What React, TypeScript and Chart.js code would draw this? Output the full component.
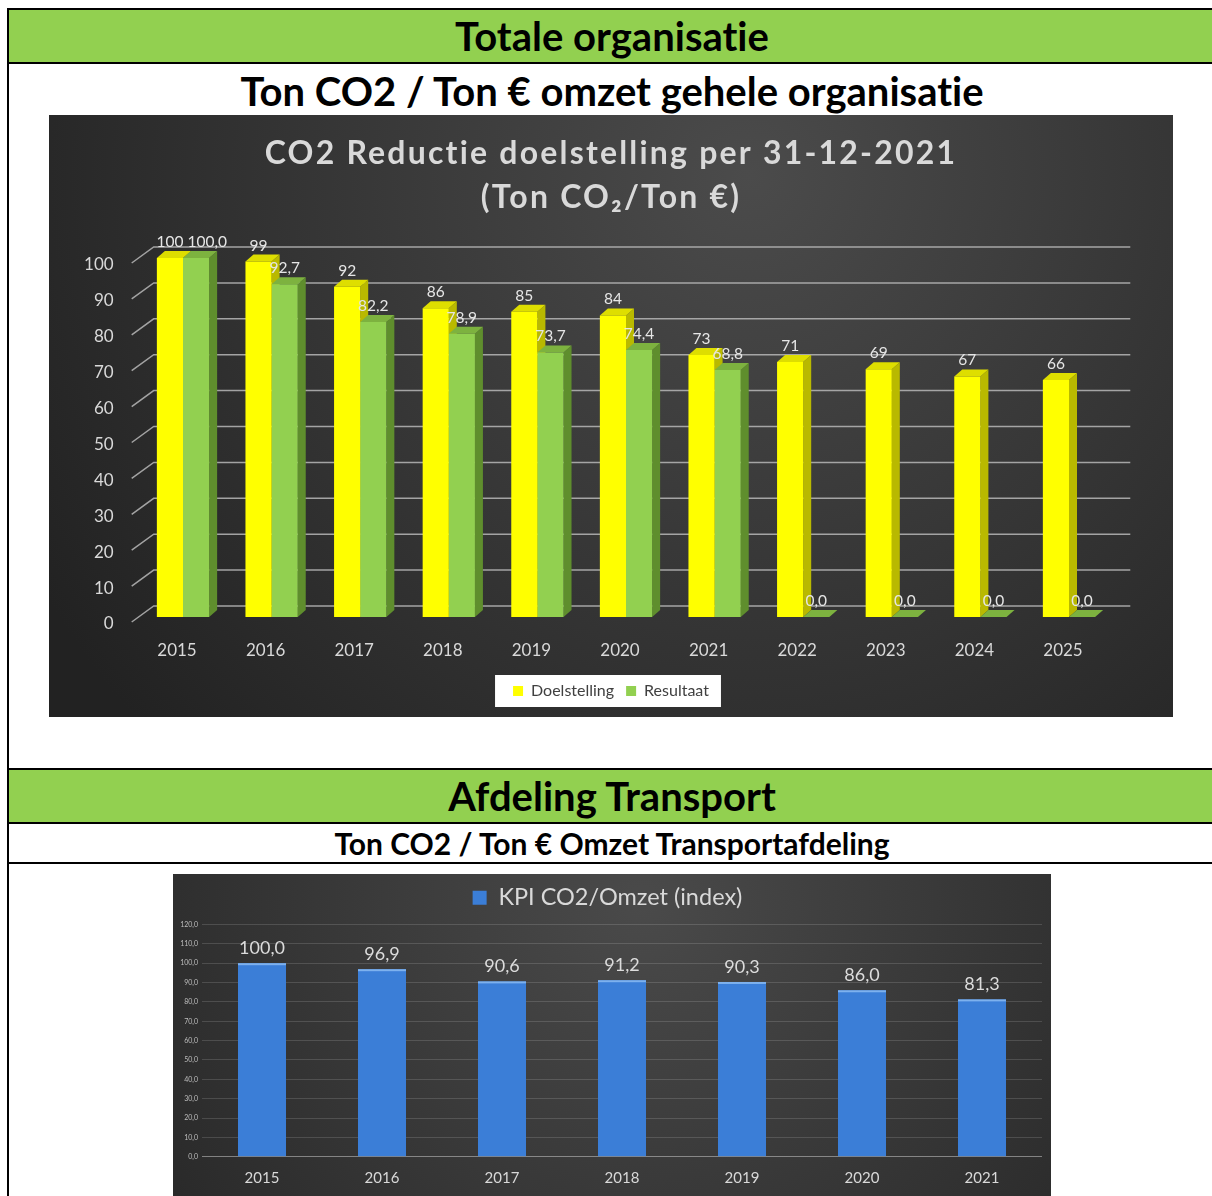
import React, { useEffect, useRef } from "react";
import { Chart, registerables } from "chart.js";

Chart.register(...registerables);

// Totale organisatie — Ton CO2 / Ton € omzet (index, 2015 = 100)
const jaren = ["2015", "2016", "2017", "2018", "2019", "2020", "2021", "2022", "2023", "2024", "2025"];
const doelstelling = [100, 99, 92, 86, 85, 84, 73, 71, 69, 67, 66];
const resultaat = [100.0, 92.7, 82.2, 78.9, 73.7, 74.4, 68.8, 0.0, 0.0, 0.0, 0.0];
const reductieTitel = ["CO2 Reductie doelstelling per 31-12-2021", "(Ton CO\u2082/Ton \u20ac)"];
const reductieMin = 0;
const reductieMax = 100;
const reductieStap = 10;

// Afdeling Transport — KPI CO2 / omzet (index)
const transportJaren = ["2015", "2016", "2017", "2018", "2019", "2020", "2021"];
const kpiIndex = [100.0, 96.9, 90.6, 91.2, 90.3, 86.0, 81.3];
const kpiMin = 0;
const kpiMax = 120;
const kpiStap = 10;

const FONT = "Lato, 'Noto Sans', sans-serif";
const komma = (v: number) => v.toFixed(1).replace(".", ",");

// pseudo-3D extrusion of the bar columns
const DX = 8;
const DY = 7;
const zijkant = [
  { side: "#b9b900", top: "#dede00" },
  { side: "#5f8e2d", top: "#7db23f" },
];

function donkereAchtergrond(cx: number, cy: number, r: number, licht: string, donker: string) {
  return {
    id: "donkereAchtergrond",
    beforeDraw(chart: any) {
      const { ctx, width, height } = chart;
      const g = ctx.createRadialGradient(cx, cy, 0, cx, cy, r);
      g.addColorStop(0, licht);
      g.addColorStop(1, donker);
      ctx.save();
      ctx.fillStyle = g;
      ctx.fillRect(0, 0, width, height);
      ctx.restore();
    },
  };
}

// wider letter spacing for the chart title only
const titelSpatiering = {
  id: "titelSpatiering",
  beforeDraw(chart: any) {
    const tb = chart.titleBlock;
    if (!tb || tb.__gespatieerd) return;
    const teken = tb.draw.bind(tb);
    tb.draw = (...args: any[]) => {
      const prev = chart.ctx.letterSpacing;
      chart.ctx.letterSpacing = "2.2px";
      teken(...args);
      chart.ctx.letterSpacing = prev || "0px";
    };
    tb.__gespatieerd = true;
  },
};

const legendaVlak = {
  id: "legendaVlak",
  beforeDraw(chart: any) {
    const lg = chart.legend;
    if (!lg || !lg.legendHitBoxes || !lg.legendHitBoxes.length) return;
    const hb = lg.legendHitBoxes;
    const first = hb[0];
    const last = hb[hb.length - 1];
    const cy = first.top + first.height / 2;
    const { ctx } = chart;
    ctx.save();
    ctx.fillStyle = "#ffffff";
    ctx.fillRect(first.left - 18, cy - 16, last.left + last.width + 12 - (first.left - 18), 32);
    ctx.restore();
  },
};

const kolommen3d = {
  id: "kolommen3d",
  beforeDatasetsDraw(chart: any) {
    const { ctx, chartArea } = chart;
    const ys = chart.scales.y;
    ctx.save();
    // back-wall gridlines with the diagonal side-wall stubs
    ctx.strokeStyle = "rgba(180,180,180,0.88)";
    ctx.lineWidth = 1.5;
    ys.ticks.forEach((t: any) => {
      const py = ys.getPixelForValue(t.value);
      ctx.beginPath();
      ctx.moveTo(chartArea.left - 7, py + 5);
      ctx.lineTo(chartArea.left + 15, py - 11);
      ctx.lineTo(chartArea.right + 17, py - 11);
      ctx.stroke();
    });
    // side and top faces, drawn behind the front faces
    chart.data.datasets.forEach((_ds: any, di: number) => {
      const meta = chart.getDatasetMeta(di);
      meta.data.forEach((el: any) => {
        const { x, y, base, width } = el.getProps(["x", "y", "base", "width"], true);
        const l = x - width / 2;
        const r = x + width / 2;
        ctx.fillStyle = zijkant[di].side;
        ctx.beginPath();
        ctx.moveTo(r, y);
        ctx.lineTo(r + DX, y - DY);
        ctx.lineTo(r + DX, base - DY);
        ctx.lineTo(r, base);
        ctx.closePath();
        ctx.fill();
        ctx.fillStyle = zijkant[di].top;
        ctx.beginPath();
        ctx.moveTo(l, y);
        ctx.lineTo(r, y);
        ctx.lineTo(r + DX, y - DY);
        ctx.lineTo(l + DX, y - DY);
        ctx.closePath();
        ctx.fill();
      });
    });
    ctx.restore();
  },
};

const waardenReductie = {
  id: "waardenReductie",
  afterDatasetsDraw(chart: any) {
    const { ctx } = chart;
    const m0 = chart.getDatasetMeta(0).data;
    const m1 = chart.getDatasetMeta(1).data;
    const d0 = chart.data.datasets[0].data;
    const d1 = chart.data.datasets[1].data;
    ctx.save();
    ctx.font = `15.5px ${FONT}`;
    ctx.fillStyle = "#e6e6e6";
    ctx.textAlign = "center";
    ctx.textBaseline = "middle";
    for (let i = 0; i < m0.length; i++) {
      const ta = String(d0[i]);
      const tb = komma(d1[i]);
      const wa = ctx.measureText(ta).width;
      const wb = ctx.measureText(tb).width;
      const xa = m0[i].x;
      const ya = m0[i].y - 16;
      let xb = m1[i].x;
      const yb = m1[i].y - 16;
      if (Math.abs(ya - yb) < 14 && xa + wa / 2 + 4 > xb - wb / 2) {
        xb = xa + wa / 2 + 4 + wb / 2;
      }
      ctx.fillText(ta, xa, ya);
      ctx.fillText(tb, xb, yb);
    }
    ctx.restore();
  },
};

const waardenTransport = {
  id: "waardenTransport",
  afterDatasetsDraw(chart: any) {
    const { ctx } = chart;
    const meta = chart.getDatasetMeta(0).data;
    const data = chart.data.datasets[0].data;
    ctx.save();
    meta.forEach((el: any, i: number) => {
      const { x, y, width } = el.getProps(["x", "y", "width"], true);
      ctx.fillStyle = "#7db1ee";
      ctx.fillRect(x - width / 2, y, width, 2);
      ctx.font = `18px ${FONT}`;
      ctx.fillStyle = "#dcdcdc";
      ctx.textAlign = "center";
      ctx.textBaseline = "middle";
      ctx.fillText(komma(data[i]), x, y - 15);
    });
    ctx.restore();
  },
};

function ReductieChart() {
  const ref = useRef<HTMLCanvasElement>(null);
  useEffect(() => {
    if (!ref.current) return;
    const chart = new Chart(ref.current, {
      type: "bar",
      data: {
        labels: jaren,
        datasets: [
          {
            label: "Doelstelling",
            data: doelstelling,
            backgroundColor: "#ffff00",
            borderWidth: 0,
            categoryPercentage: 0.59,
            barPercentage: 1,
          },
          {
            label: "Resultaat",
            data: resultaat,
            backgroundColor: "#92d050",
            borderWidth: 0,
            categoryPercentage: 0.59,
            barPercentage: 1,
          },
        ],
      },
      options: {
        animation: false,
        responsive: false,
        events: [],
        layout: { padding: { left: 0, right: 0, top: 0, bottom: 8 } },
        plugins: {
          title: {
            display: true,
            text: reductieTitel,
            color: "#d9d9d9",
            font: { family: FONT, size: 32, weight: "bold", lineHeight: 1.375 },
            padding: { top: 17, bottom: 38 },
          },
          legend: {
            position: "bottom",
            labels: {
              color: "#404040",
              font: { family: FONT, size: 16 },
              boxWidth: 10,
              boxHeight: 10,
              padding: 12,
            },
          },
          tooltip: { enabled: false },
        },
        scales: {
          x: {
            grid: { display: false },
            border: { display: false },
            ticks: {
              color: "#d9d9d9",
              font: { family: FONT, size: 17 },
              padding: 15,
              labelOffset: -6,
            },
            afterFit: (s: any) => {
              s.height = 54;
            },
          },
          y: {
            min: reductieMin,
            max: reductieMax,
            grid: { display: false },
            border: { display: false },
            ticks: {
              stepSize: reductieStap,
              color: "#d9d9d9",
              font: { family: FONT, size: 17 },
              padding: 17,
              labelOffset: 7,
            },
            afterFit: (s: any) => {
              s.width = 89.7;
            },
          },
          rechts: {
            type: "linear",
            position: "right",
            grid: { display: false },
            border: { display: false },
            ticks: { display: false },
            afterFit: (s: any) => {
              s.width = 59.7;
            },
          },
        },
      },
      plugins: [
        titelSpatiering,
        donkereAchtergrond(700, 60, 820, "#4b4b4b", "#222222"),
        legendaVlak,
        kolommen3d,
        waardenReductie,
      ],
    } as any);
    return () => chart.destroy();
  }, []);
  return <canvas ref={ref} width={1124} height={602} style={{ display: "block" }} />;
}

function TransportChart() {
  const ref = useRef<HTMLCanvasElement>(null);
  useEffect(() => {
    if (!ref.current) return;
    const chart = new Chart(ref.current, {
      type: "bar",
      data: {
        labels: transportJaren,
        datasets: [
          {
            label: "KPI CO2/Omzet (index)",
            data: kpiIndex,
            backgroundColor: "#3b7ed7",
            borderWidth: 0,
            barPercentage: 0.4,
            categoryPercentage: 1,
          },
        ],
      },
      options: {
        animation: false,
        responsive: false,
        events: [],
        layout: { padding: { left: 0, right: 9, top: 0, bottom: 0 } },
        plugins: {
          legend: {
            position: "top",
            labels: {
              color: "#d9d9d9",
              font: { family: FONT, size: 23.5 },
              boxWidth: 14,
              boxHeight: 14,
              padding: 12,
            },
          },
          title: { display: false },
          tooltip: { enabled: false },
        },
        scales: {
          x: {
            grid: { display: false },
            border: { display: false },
            ticks: { color: "#d9d9d9", font: { family: FONT, size: 15 }, padding: 4 },
            afterFit: (s: any) => {
              s.height = 39.3;
            },
          },
          ruimte: {
            type: "category",
            position: "top",
            grid: { display: false },
            border: { display: false },
            ticks: { display: false },
            afterFit: (s: any) => {
              s.height = 5;
            },
          },
          y: {
            min: kpiMin,
            max: kpiMax,
            border: { display: false },
            grid: {
              drawTicks: false,
              color: (c: any) => (c.tick && c.tick.value === 0 ? "rgba(200,200,200,0.55)" : "rgba(255,255,255,0.14)"),
              lineWidth: 1,
            },
            ticks: {
              stepSize: kpiStap,
              color: "#bdbdbd",
              font: { family: FONT, size: 7 },
              padding: 4,
              callback: (v: any) => komma(Number(v)),
            },
            afterFit: (s: any) => {
              s.width = 29;
            },
          },
        },
      },
      plugins: [donkereAchtergrond(470, 30, 620, "#4a4a4a", "#262626"), waardenTransport],
    } as any);
    return () => chart.destroy();
  }, []);
  return <canvas ref={ref} width={878} height={322} style={{ display: "block" }} />;
}

const lijn = (top: number): React.CSSProperties => ({
  position: "absolute",
  left: 7,
  top,
  width: 1205,
  height: 2,
  background: "#000",
});

const kop = (top: number, height: number, size: number, green: boolean): React.CSSProperties => ({
  position: "absolute",
  left: 9,
  top,
  width: 1203,
  height,
  lineHeight: `${height}px`,
  textAlign: "center",
  fontWeight: 700,
  fontSize: size,
  color: "#000",
  background: green ? "#92d050" : "transparent",
  paddingLeft: 3,
  boxSizing: "border-box",
  whiteSpace: "nowrap",
  fontVariantLigatures: "none",
});

export default function App() {
  return (
    <div
      style={{
        position: "absolute",
        left: 0,
        top: 0,
        width: 1212,
        height: 1196,
        overflow: "hidden",
        background: "#fff",
        fontFamily: FONT,
      }}
    >
      <div style={lijn(8)} />
      <div style={kop(10, 52, 40, true)}>Totale organisatie</div>
      <div style={lijn(62)} />
      <div style={kop(64, 54, 40, false)}>Ton CO2 / Ton € omzet gehele organisatie</div>
      <div style={{ position: "absolute", left: 49, top: 115 }}>
        <ReductieChart />
      </div>
      <div style={lijn(768)} />
      <div style={kop(770, 52, 40, true)}>Afdeling Transport</div>
      <div style={lijn(822)} />
      <div style={kop(824, 38, 30, false)}>Ton CO2 / Ton € Omzet Transportafdeling</div>
      <div style={lijn(862)} />
      <div style={{ position: "absolute", left: 173, top: 874 }}>
        <TransportChart />
      </div>
      <div style={{ position: "absolute", left: 7, top: 8, width: 2, height: 1188, background: "#000" }} />
    </div>
  );
}
